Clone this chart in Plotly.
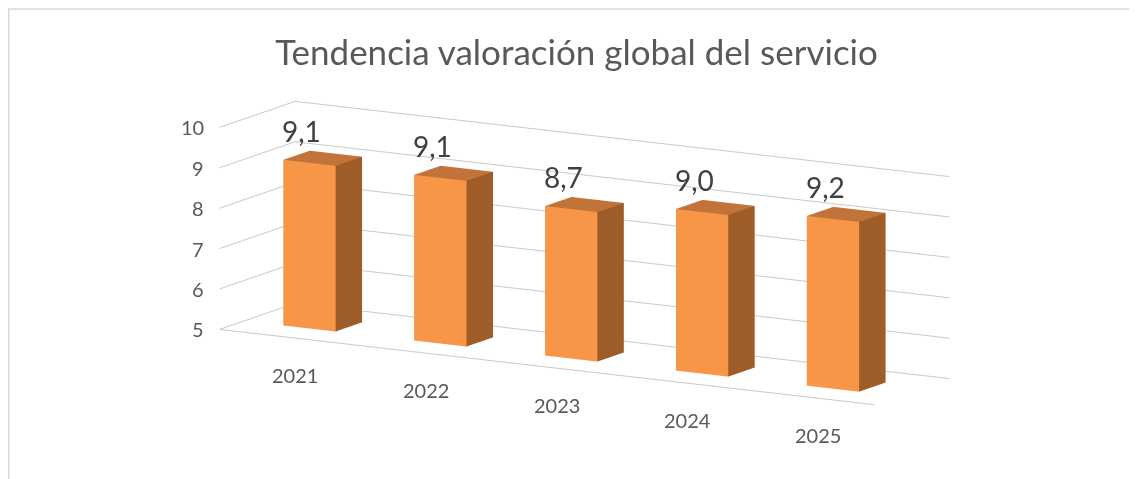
import plotly.graph_objects as go

years = ["2021", "2022", "2023", "2024", "2025"]
values = [9.1, 9.1, 8.7, 9.0, 9.2]
labels = ["9,1", "9,1", "8,7", "9,0", "9,2"]
z_ticks = [5, 6, 7, 8, 9, 10]

BASE = 5.0
HALF_W = 0.2      # bar half width (category units)
DEPTH = 1.0       # floor depth
Y0, Y1 = 0.325, 0.675  # bar depth extent

FRONT = "#F79646"
TOP = "#C2733A"
SIDE = "#9E5C28"
FONT = "Lato"
GRID = "#C9C9C9"

xs, ys, zs, ii, jj, kk, fc = [], [], [], [], [], [], []
for idx, v in enumerate(values):
    x0, x1 = idx - HALF_W, idx + HALF_W
    base = len(xs)
    corners = [
        (x0, Y0, BASE), (x1, Y0, BASE), (x1, Y1, BASE), (x0, Y1, BASE),
        (x0, Y0, v), (x1, Y0, v), (x1, Y1, v), (x0, Y1, v),
    ]
    for c in corners:
        xs.append(c[0]); ys.append(c[1]); zs.append(c[2])
    faces = [
        ((0, 1, 5), FRONT), ((0, 5, 4), FRONT),
        ((1, 2, 6), SIDE), ((1, 6, 5), SIDE),
        ((4, 5, 6), TOP), ((4, 6, 7), TOP),
        ((0, 3, 7), SIDE), ((0, 7, 4), SIDE),
        ((3, 2, 6), FRONT), ((3, 6, 7), FRONT),
        ((0, 1, 2), TOP), ((0, 2, 3), TOP),
    ]
    for (a, b, c), col in faces:
        ii.append(base + a); jj.append(base + b); kk.append(base + c); fc.append(col)

fig = go.Figure()
fig.add_trace(go.Mesh3d(
    x=xs, y=ys, z=zs, i=ii, j=jj, k=kk, facecolor=fc, flatshading=True,
    lighting=dict(ambient=1.0, diffuse=0.0, specular=0.0, roughness=1.0, fresnel=0.0),
    hoverinfo="skip", showscale=False,
))

annotations = []
for idx, (y, v, lab) in enumerate(zip(years, values, labels)):
    annotations.append(dict(x=idx, y=Y0, z=v, text=lab, showarrow=False, yshift=32,
                            xshift=-8, font=dict(family=FONT, size=28, color="#404040")))
    annotations.append(dict(x=idx, y=0, z=BASE, text=y, showarrow=False, yshift=-38,
                            xshift=10, font=dict(family=FONT, size=20, color="#595959")))
for t in z_ticks:
    annotations.append(dict(x=-0.5, y=0, z=t, text=str(t), showarrow=False,
                            xanchor="right", xshift=-13,
                            font=dict(family=FONT, size=20, color="#595959")))

axis_common = dict(showbackground=False, zeroline=False, showspikes=False, title="",
                   ticks="", showticklabels=False)
fig.update_layout(
    width=1137, height=479,
    margin=dict(l=0, r=0, t=0, b=0),
    paper_bgcolor="white",
    showlegend=False,
    title=dict(text="Tendencia valoración global del servicio", x=0.5, y=0.906,
               xanchor="center", yanchor="middle",
               font=dict(family=FONT, size=35, color="#595959")),
    scene=dict(
        domain=dict(x=[0.014, 1.0], y=[0.0105, 0.9665]),
        bgcolor="white",
        aspectmode="manual",
        aspectratio=dict(x=3.3, y=0.66, z=0.9),
        camera=dict(eye=dict(x=0.655, y=-1.134, z=0.266), center=dict(x=0, y=0, z=0),
                    up=dict(x=0, y=0, z=1), projection=dict(type="orthographic")),
        xaxis=dict(range=[-0.5, len(years) - 0.5], tickvals=list(range(len(years))),
                   showgrid=False, showline=True, linecolor=GRID, linewidth=2,
                   **axis_common),
        yaxis=dict(range=[0, DEPTH], showgrid=False, showline=False, **axis_common),
        zaxis=dict(range=[BASE, 10], tickvals=z_ticks, showgrid=True,
                   gridcolor=GRID, gridwidth=2, showline=False, **axis_common),
        annotations=annotations,
    ),
    shapes=[dict(type="rect", xref="paper", yref="paper", x0=0.0007, x1=1.02,
                 y0=-0.02, y1=0.998, line=dict(color="#D9D9D9", width=1.5),
                 fillcolor="rgba(0,0,0,0)")],
)

fig.write_html("out.html")
